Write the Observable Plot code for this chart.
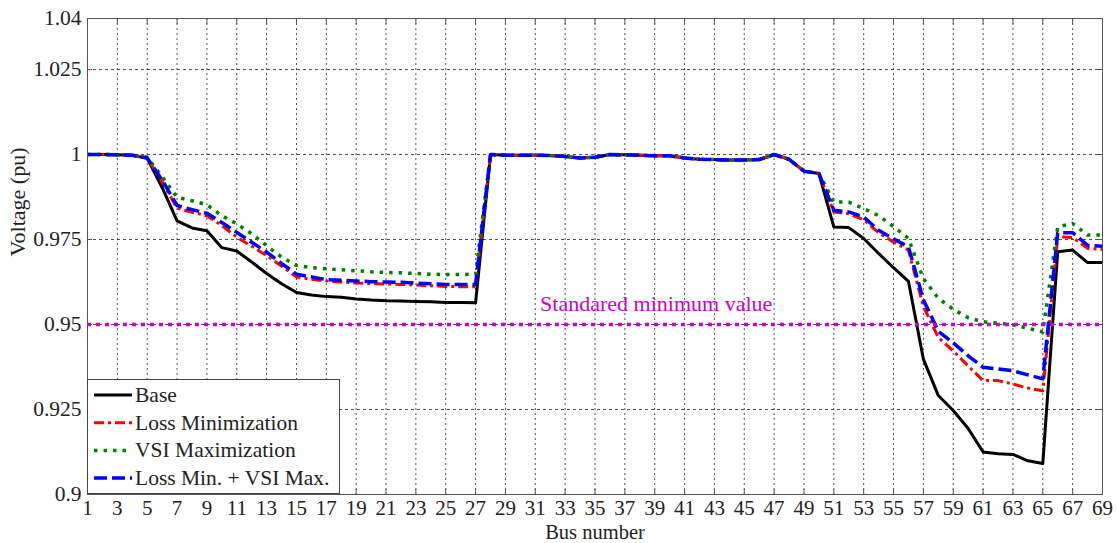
<!DOCTYPE html>
<html>
<head>
<meta charset="utf-8">
<script src="https://cdn.jsdelivr.net/npm/d3@7"></script>
<script src="https://cdn.jsdelivr.net/npm/@observablehq/plot@0.6"></script>
<style>
  html, body { margin: 0; padding: 0; background: #fff; }
  #wrap { position: relative; width: 1117px; height: 543px; font-family: "Liberation Serif", "Times New Roman", serif; }
  #legend { position: absolute; left: 87px; top: 379px; }
</style>
</head>
<body>
<div id="wrap"></div>
<script>
const bus = [1,2,3,4,5,6,7,8,9,10,11,12,13,14,15,16,17,18,19,20,21,22,23,24,25,26,27,28,29,30,31,32,33,34,35,36,37,38,39,40,41,42,43,44,45,46,47,48,49,50,51,52,53,54,55,56,57,58,59,60,61,62,63,64,65,66,67,68,69];

const base = [1.0000,1.0000,0.9999,0.9998,0.9989,0.9903,0.9805,0.9784,0.9776,0.9726,0.9716,0.9684,0.9650,0.9620,0.9594,0.9587,0.9582,0.9580,0.9575,0.9572,0.9570,0.9569,0.9568,0.9567,0.9565,0.9565,0.9564,
  1.0000,0.9998,0.9998,0.9998,0.9997,0.9994,0.9990,0.9992,1.0000,0.9999,0.9998,0.9996,0.9996,0.9990,0.9986,0.9985,0.9984,0.9984,0.9985,1.0000,0.9986,0.9951,0.9944,
  0.9787,0.9785,0.9753,0.9709,0.9667,0.9627,0.9398,0.9291,0.9247,0.9194,0.9125,0.9120,0.9118,0.9099,0.9091,0.9714,0.9719,0.9682,0.9682];

const lossMin = [1.0000,1.0000,0.9999,0.9998,0.9990,0.9920,0.9842,0.9830,0.9820,0.9791,0.9757,0.9730,0.9703,0.9672,0.9640,0.9633,0.9628,0.9625,0.9622,0.9620,0.9619,0.9618,0.9616,0.9614,0.9612,0.9611,0.9611,
  1.0000,0.9998,0.9998,0.9998,0.9997,0.9994,0.9990,0.9992,1.0000,0.9999,0.9998,0.9996,0.9996,0.9990,0.9986,0.9985,0.9984,0.9984,0.9985,1.0000,0.9986,0.9951,0.9944,
  0.9831,0.9826,0.9808,0.9770,0.9742,0.9719,0.9553,0.9462,0.9422,0.9378,0.9335,0.9335,0.9325,0.9313,0.9305,0.9758,0.9756,0.9724,0.9721];

const vsiMax = [1.0000,1.0000,0.9999,0.9998,0.9992,0.9935,0.9874,0.9864,0.9852,0.9820,0.9796,0.9767,0.9732,0.9698,0.9674,0.9667,0.9664,0.9661,0.9658,0.9655,0.9653,0.9652,0.9650,0.9648,0.9647,0.9647,0.9648,
  1.0000,0.9998,0.9998,0.9998,0.9997,0.9994,0.9990,0.9992,1.0000,0.9999,0.9998,0.9996,0.9996,0.9990,0.9986,0.9985,0.9984,0.9984,0.9985,1.0000,0.9986,0.9951,0.9944,
  0.9860,0.9860,0.9841,0.9820,0.9788,0.9753,0.9635,0.9577,0.9545,0.9520,0.9508,0.9504,0.9499,0.9489,0.9478,0.9787,0.9797,0.9763,0.9763];

const lossVsi = [1.0000,1.0000,0.9999,0.9998,0.9990,0.9925,0.9850,0.9838,0.9827,0.9800,0.9771,0.9742,0.9713,0.9680,0.9648,0.9640,0.9632,0.9630,0.9628,0.9626,0.9625,0.9624,0.9622,0.9620,0.9618,0.9618,0.9618,
  1.0000,0.9998,0.9998,0.9998,0.9997,0.9994,0.9990,0.9992,1.0000,0.9999,0.9998,0.9996,0.9996,0.9990,0.9986,0.9985,0.9984,0.9984,0.9985,1.0000,0.9986,0.9951,0.9944,
  0.9836,0.9831,0.9816,0.9777,0.9752,0.9728,0.9573,0.9480,0.9446,0.9408,0.9374,0.9369,0.9364,0.9352,0.9340,0.9770,0.9770,0.9733,0.9730];

const seriesNames = ["Base", "Loss Minimization", "VSI Maximization", "Loss Min. + VSI Max."];
const xTicks = [1,3,5,7,9,11,13,15,17,19,21,23,25,27,29,31,33,35,37,39,41,43,45,47,49,51,53,55,57,59,61,63,65,67,69];
const yTicks = [0.9, 0.925, 0.95, 0.975, 1, 1.025, 1.04];
const yTickLabels = ["0.9", "0.925", "0.95", "0.975", "1", "1.025", "1.04"];
const minVoltage = [0.95];
const minLabel = "Standared minimum value";
const xLabel = "Bus number";
const yLabel = "Voltage (pu)";

const styles = [
  {stroke: "#000000", strokeWidth: 3, dash: null},
  {stroke: "#ff0000", strokeWidth: 3, dash: "10,4,3,4"},
  {stroke: "#008000", strokeWidth: 3.5, dash: "3.5,6"},
  {stroke: "#0000ff", strokeWidth: 3.5, dash: "13,5"}
];
const seriesValues = [base, lossMin, vsiMax, lossVsi];
const rows = seriesValues.map((vals, i) => bus.map((b, j) => ({bus: b, v: vals[j], s: seriesNames[i]})));

const fmtY = d => yTickLabels[yTicks.indexOf(d)] ?? String(d);
const font = '"Liberation Serif", "Times New Roman", serif';

const chart = Plot.plot({
  width: 1117,
  height: 543,
  marginLeft: 87,
  marginRight: 15,
  marginTop: 18,
  marginBottom: 49,
  style: {fontFamily: font, fontSize: "21px", background: "#fff", color: "#222"},
  x: {domain: [1, 69]},
  y: {domain: [0.9, 1.04]},
  marks: [
    Plot.gridX(xTicks, {stroke: "#333", strokeOpacity: 0.85, strokeWidth: 1, strokeDasharray: "2,3"}),
    Plot.gridY(yTicks, {stroke: "#333", strokeOpacity: 0.85, strokeWidth: 1, strokeDasharray: "3,3"}),
    Plot.axisX(xTicks, {anchor: "bottom", tickSize: -5, tickPadding: 11, label: null, fontSize: 21, stroke: "#555", fill: "#222", tickFormat: d => String(d)}),
    Plot.axisX(xTicks, {anchor: "top", tickSize: -5, label: null, stroke: "#555", tickFormat: () => ""}),
    Plot.axisY(yTicks, {anchor: "left", tickSize: -5, tickPadding: 11, label: null, fontSize: 21.5, stroke: "#555", fill: "#222", tickFormat: fmtY}),
    Plot.axisY(yTicks, {anchor: "right", tickSize: -5, label: null, stroke: "#555", tickFormat: () => ""}),
    ...rows.map((r, i) => Plot.line(r, {
      x: "bus", y: "v",
      stroke: styles[i].stroke,
      strokeWidth: styles[i].strokeWidth,
      strokeDasharray: styles[i].dash,
      strokeLinejoin: "round",
      strokeLinecap: "butt"
    })),
    Plot.ruleY(minVoltage, {stroke: "#cc00cc", strokeWidth: 3.5, strokeDasharray: "4,5"}),
    Plot.text([minLabel], {x: 39.1, y: minVoltage[0], text: d => d, dy: -21, fill: "#cc00cc", fontSize: 22, textAnchor: "middle", lineAnchor: "middle"}),
    Plot.text([xLabel], {frameAnchor: "bottom", text: d => d, dy: 44, fontSize: 20.5, fill: "#222", lineAnchor: "bottom"}),
    Plot.text([yLabel], {frameAnchor: "left", text: d => d, dx: -70, rotate: -90, fontSize: 22, fill: "#222", lineAnchor: "middle"}),
    Plot.frame({stroke: "#555", strokeWidth: 1})
  ]
});

const wrap = document.getElementById("wrap");
wrap.appendChild(chart);

// Legend box (inside plot area, bottom-left), built from series names & styles
const lw = 253, lh = 115;
const legend = d3.create("svg")
  .attr("id", "legend")
  .attr("width", lw + 1)
  .attr("height", lh + 1)
  .style("font-family", font);
legend.append("rect")
  .attr("x", 0.5).attr("y", 0.5).attr("width", lw - 1).attr("height", lh - 1)
  .attr("fill", "#fff").attr("stroke", "#444").attr("stroke-width", 1);
seriesNames.forEach((name, i) => {
  const cy = 16 + i * 27.7;
  legend.append("line")
    .attr("x1", 7).attr("x2", 45).attr("y1", cy).attr("y2", cy)
    .attr("stroke", styles[i].stroke)
    .attr("stroke-width", styles[i].strokeWidth)
    .attr("stroke-dasharray", styles[i].dash);
  legend.append("text")
    .attr("x", 48).attr("y", cy)
    .attr("dy", "0.33em")
    .attr("font-size", 21.5)
    .attr("fill", "#222")
    .text(name);
});
wrap.appendChild(legend.node());
</script>
</body>
</html>
